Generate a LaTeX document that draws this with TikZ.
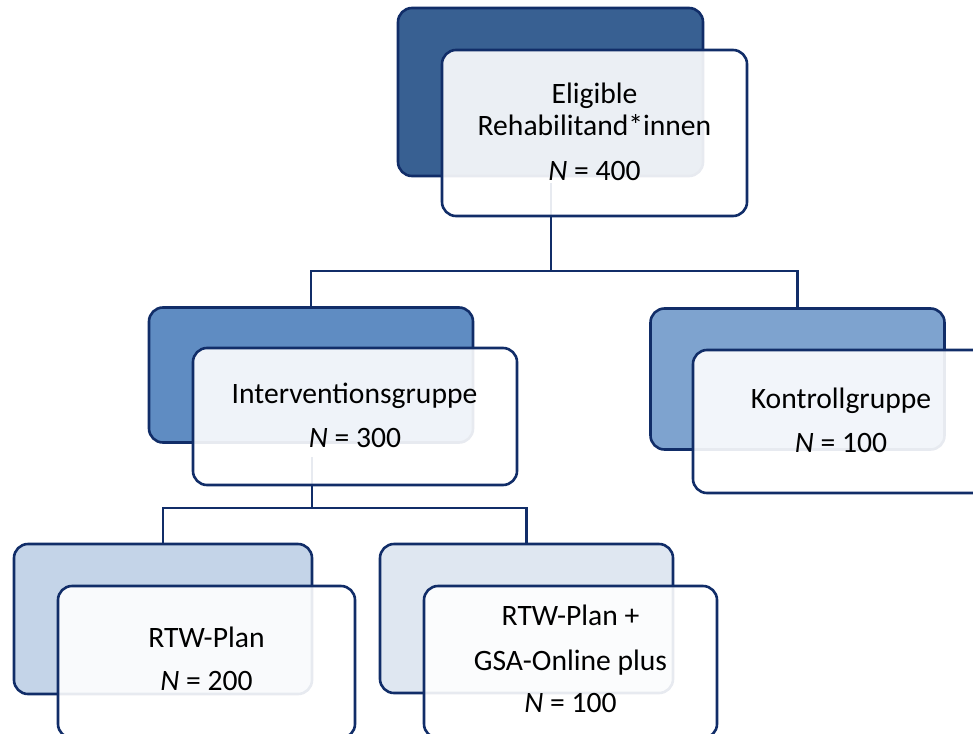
\documentclass[tikz,border=0pt]{standalone}
\usepackage{fontspec}
\setmainfont{Carlito}
\definecolor{edge}{HTML}{112D68}
\definecolor{cA}{HTML}{386092}
\definecolor{cB}{HTML}{5F8CC2}
\definecolor{cC}{HTML}{7EA3CF}
\definecolor{cD}{HTML}{C4D4E8}
\definecolor{cE}{HTML}{DFE7F1}
\tikzset{
  backbox/.style={draw=edge, line width=2.6pt, rounded corners=14pt, inner sep=0pt},
  frontbox/.style={draw=edge, line width=2.6pt, rounded corners=14pt, inner sep=0pt, fill=white, fill opacity=0.9},
  conn/.style={draw=edge, line width=2.6pt},
  lbl/.style={anchor=base, inner sep=0pt, font=\fontsize{29.6}{35}\selectfont, text=black}
}
\begin{document}
\begin{tikzpicture}[x=1pt,y=-1pt]
\useasboundingbox (0,0) rectangle (973,733);
% back boxes
\node[backbox, fill=cA, minimum width=305pt, minimum height=168pt] (b1) at (550.5,92) {};
\node[backbox, fill=cB, minimum width=324pt, minimum height=135pt] (b2) at (311,375) {};
\node[backbox, fill=cC, minimum width=294pt, minimum height=141pt] (b3) at (797.5,379) {};
\node[backbox, fill=cD, minimum width=298pt, minimum height=150pt] (b4) at (163,619) {};
\node[backbox, fill=cE, minimum width=293pt, minimum height=149pt] (b5) at (526.5,618.5) {};
% connectors
\coordinate (s1) at (551,183);
\coordinate (s2) at (312,457);
\draw[conn] (s1) -- ++(0,88) -| (b2.north);
\draw[conn] (s1) -- ++(0,88) -| (b3.north);
\draw[conn] (s2) -- ++(0,51) -| (b4.north);
\draw[conn] (s2) -- ++(0,51) -| (b5.north);
% front boxes
\node[frontbox, minimum width=305pt, minimum height=166pt] (f1) at (594.5,133) {};
\node[frontbox, minimum width=324pt, minimum height=137pt] (f2) at (355,416.5) {};
\node[frontbox, minimum width=296pt, minimum height=143pt] (f3) at (841,421.5) {};
\node[frontbox, minimum width=297pt, minimum height=152pt] (f4) at (206.5,662) {};
\node[frontbox, minimum width=293pt, minimum height=152pt] (f5) at (570.5,662) {};
% labels
\node[lbl] (t1a) at (594.5,103) {Eligible};
\node[lbl] (t1b) at (594.5,135) {Rehabilitand*innen};
\node[lbl] (t1c) at (594.5,180) {\textit{N} = 400};
\node[lbl] (t2a) at (354.5,403) {Interventionsgruppe};
\node[lbl] (t2b) at (355,447) {\textit{N} = 300};
\node[lbl] (t3a) at (841,408) {Kontrollgruppe};
\node[lbl] (t3b) at (841,452) {\textit{N} = 100};
\node[lbl] (t4a) at (206.5,647) {RTW-Plan};
\node[lbl] (t4b) at (206.5,690) {\textit{N} = 200};
\node[lbl] (t5a) at (570.5,625) {RTW-Plan +};
\node[lbl] (t5b) at (570.5,670) {GSA-Online plus};
\node[lbl] (t5c) at (570.5,712) {\textit{N} = 100};
\end{tikzpicture}
\end{document}
